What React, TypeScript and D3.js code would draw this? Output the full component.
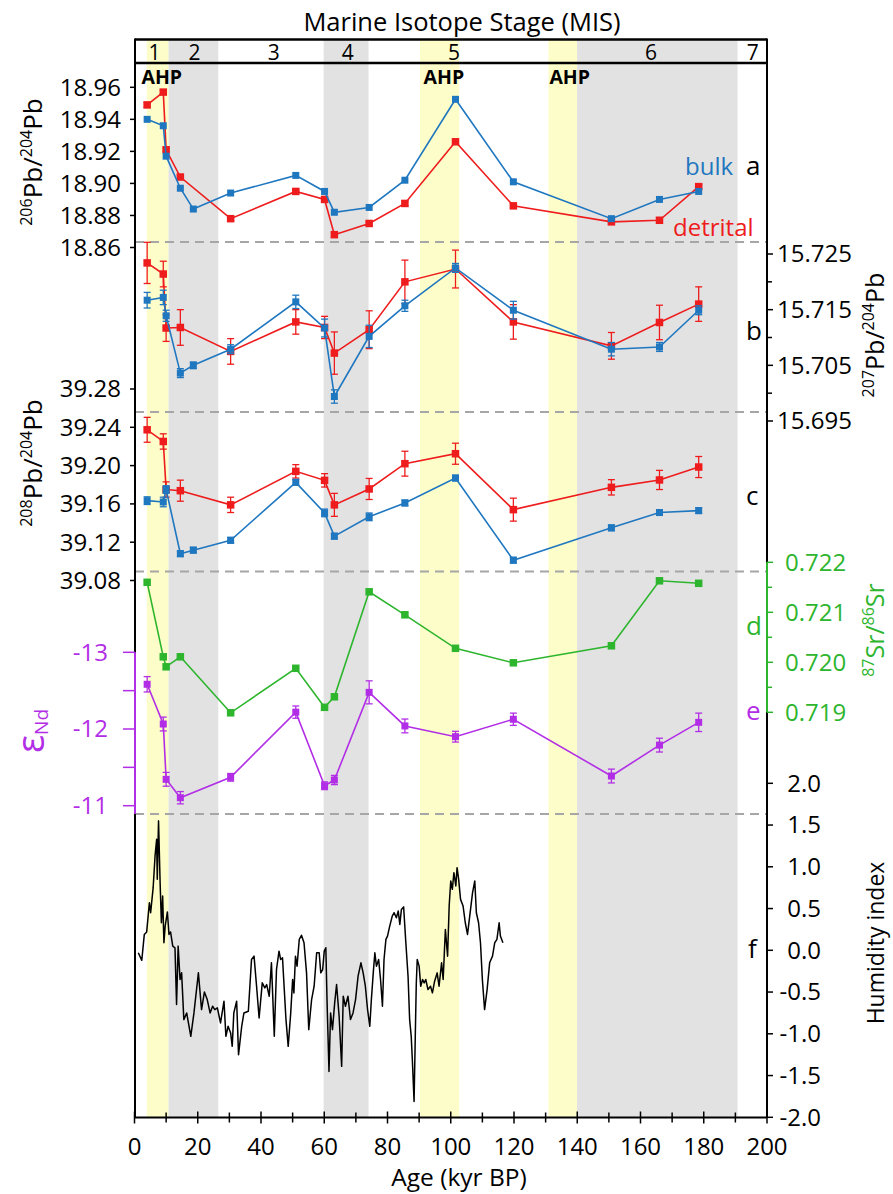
import React from 'react';
import * as d3 from 'd3';

// ---------- DATA ----------
const ages = [4.0, 9.1, 10.0, 14.5, 18.6, 30.4, 51.0, 60.1, 63.2, 74.2, 85.5, 101.5, 119.8, 150.8, 166.0, 178.4];

const pb206Bulk = [18.940, 18.936, 18.917, 18.897, 18.884, 18.894, 18.905, 18.895, 18.882, 18.885, 18.902, 18.9525, 18.901, 18.878, 18.890, 18.895];
const pb206Detr = [18.949, 18.957, 18.921, 18.904, null, 18.878, 18.895, 18.890, 18.868, 18.875, 18.8875, 18.926, 18.886, 18.876, 18.877, 18.898];
const pb206DetrErr = [0.0015, 0.0012, 0.0012, 0.0012, null, 0.0012, 0.0012, 0.0012, 0.0015, 0.0012, 0.0015, 0.0012, 0.0012, 0.0012, 0.0015, 0.0012];

const pb207Bulk = [15.7167, 15.7172, 15.7139, 15.7036, 15.7050, 15.7079, 15.7164, 15.7117, 15.6994, 15.7102, 15.7157, 15.7225, 15.7149, 15.7079, 15.7083, 15.7149];
const pb207BulkErr = [0.0014, 0.0013, 0.0010, 0.0008, 0.0006, 0.0008, 0.0012, 0.0016, 0.0012, 0.0020, 0.0010, 0.0008, 0.0016, 0.0012, 0.0008, 0.0008];
const pb207Detr = [15.7234, 15.7214, 15.7117, 15.7118, null, 15.7075, 15.7128, 15.7118, 15.7072, 15.7114, 15.7200, 15.7223, 15.7128, 15.7085, 15.7127, 15.7160];
const pb207DetrErr = [0.0037, 0.0023, 0.0024, 0.0032, null, 0.0023, 0.0022, 0.0020, 0.0038, 0.0034, 0.0039, 0.0034, 0.0031, 0.0024, 0.0031, 0.0031];

const pb208Bulk = [39.1634, 39.162, 39.175, 39.108, 39.1117, 39.122, 39.1825, 39.1506, 39.1263, 39.1465, 39.161, 39.187, 39.1012, 39.135, 39.151, 39.153];
const pb208BulkErr = [0.004, 0.005, 0.004, 0.003, 0.003, 0.003, 0.003, 0.004, 0.003, 0.004, 0.003, 0.003, 0.003, 0.003, 0.003, 0.003];
const pb208Detr = [39.2374, 39.2252, 39.175, 39.1738, null, 39.159, 39.194, 39.1846, 39.159, 39.1756, 39.202, 39.2124, 39.154, 39.1773, 39.185, 39.1985];
const pb208DetrErr = [0.013, 0.008, 0.008, 0.011, null, 0.008, 0.007, 0.007, 0.012, 0.011, 0.013, 0.011, 0.012, 0.008, 0.010, 0.011];

const sr = [0.7216, 0.72011, 0.71991, 0.72011, null, 0.71899, 0.71988, 0.7191, 0.71931, 0.72141, 0.72095, 0.72028, 0.71999, 0.72033, 0.72163, 0.72158];

const eNd = [-12.583, -12.065, -11.344, -11.104, null, -11.37, -12.22, -11.26, -11.335, -12.478, -12.04, -11.9, -12.127, -11.387, -11.79, -12.087];
const eNdErr = [0.10, 0.09, 0.09, 0.08, null, 0.05, 0.08, 0.05, 0.06, 0.15, 0.09, 0.07, 0.08, 0.09, 0.09, 0.12];

const humAge = [1.2, 2.3, 3.1, 3.85, 4.7, 5.1, 5.9, 6.5, 7.0, 7.2, 7.6, 8.1, 8.5, 8.9, 9.3, 9.7, 10.4, 10.9, 11.4, 12.1, 12.8, 13.3, 13.8, 14.4, 14.9, 15.6, 16.5, 17.8, 18.8, 20.2, 21.2, 22.1, 23.0, 23.9, 24.7, 25.4, 26.2, 27.2, 28.3, 28.9, 29.6, 30.4, 30.9, 31.4, 32.3, 32.9, 33.9, 34.6, 36.0, 37.0, 37.8, 38.6, 39.4, 40.4, 41.2, 41.8, 42.6, 43.3, 44.2, 44.9, 45.7, 46.2, 46.8, 47.3, 47.9, 48.6, 49.4, 50.0, 50.4, 50.9, 51.4, 52.1, 52.8, 53.6, 54.4, 55.1, 56.0, 56.8, 57.6, 58.4, 58.9, 59.5, 60.0, 60.5, 60.9, 61.5, 62.0, 62.6, 63.3, 63.9, 64.7, 65.5, 66.0, 66.7, 67.5, 68.3, 69.1, 69.9, 70.7, 71.6, 72.3, 73.0, 73.7, 74.4, 74.9, 75.5, 76.0, 76.5, 77.2, 77.8, 78.4, 78.9, 79.5, 80.0, 80.7, 81.5, 82.1, 82.8, 83.4, 83.9, 84.4, 85.1, 85.8, 86.5, 87.0, 87.5, 87.9, 88.4, 88.8, 89.1, 89.4, 90.0, 90.5, 91.1, 91.6, 92.1, 92.8, 93.6, 94.2, 94.9, 95.7, 96.3, 97.1, 97.6, 98.3, 99.0, 99.5, 100.0, 100.5, 101.0, 101.6, 102.0, 102.5, 103.1, 103.9, 104.6, 105.3, 106.0, 106.9, 107.6, 108.1, 108.8, 109.4, 110.0, 110.7, 111.5, 112.3, 113.2, 113.9, 114.6, 115.3, 115.7, 116.5];
const humVal = [-0.03, -0.12, 0.19, 0.22, 0.57, 0.45, 0.75, 1.13, 1.33, 0.85, 1.55, 0.81, 0.33, 0.65, 0.09, 0.29, 0.46, 0.19, 0.22, 0.05, 0.03, -0.65, 0.05, -0.35, -0.27, -0.83, -0.75, -1.03, -0.75, -0.27, -0.71, -0.50, -0.59, -0.75, -0.67, -0.71, -0.69, -0.87, -0.61, -1.03, -0.91, -0.99, -1.15, -0.75, -0.61, -1.25, -0.91, -0.75, -0.73, -0.11, -0.07, -0.43, -0.81, -0.39, -0.45, -0.41, -0.55, -0.15, -1.03, -0.23, -0.01, -0.11, -0.09, -0.43, -0.83, -1.15, -0.75, -0.35, -0.51, -0.07, -0.19, 0.13, 0.18, 0.09, -0.27, -0.95, -0.59, -0.43, -0.03, -0.03, -0.27, -0.23, -0.01, 0.03, -0.63, -1.45, -0.75, -0.95, -0.63, -0.41, -0.79, -1.39, -0.55, -0.67, -0.55, -0.83, -0.75, -0.59, -0.31, -0.15, -0.27, -0.43, -0.71, -0.91, -0.59, -0.27, -0.03, -0.19, -0.11, -0.35, -0.67, -0.11, 0.13, 0.17, 0.29, 0.41, 0.45, 0.39, 0.47, 0.31, 0.49, 0.52, 0.09, -0.31, -0.83, -1.03, -1.35, -1.81, -1.0, -0.4, -0.11, -0.19, -0.43, -0.35, -0.39, -0.35, -0.47, -0.43, -0.51, -0.37, -0.27, -0.43, -0.15, -0.35, 0.25, -0.07, 0.53, 0.83, 0.73, 0.93, 0.77, 0.99, 0.85, 0.61, 0.53, 0.33, 0.19, 0.41, 0.69, 0.83, 0.45, 0.33, 0.09, -0.35, -0.71, -0.47, -0.15, -0.07, 0.09, 0.13, 0.33, 0.17, 0.09];

const yellowBands = [[3.9, 10.7], [90.3, 102.7], [130.9, 139.9]];
const grayBands = [[10.7, 26.5], [59.8, 74.0], [139.9, 190.7]];
const misLabels = ['1', '2', '3', '4', '5', '6', '7'];
const misAges = [6.3, 19.0, 44.0, 67.4, 101.0, 163.3, 195.5];
const ahpAges = [2.2, 91.4, 131.2];

const ticksA = [18.86, 18.88, 18.90, 18.92, 18.94, 18.96];
const ticksB = [15.695, 15.705, 15.715, 15.725];
const minorB = [15.700, 15.710, 15.720];
const ticksC = [39.08, 39.12, 39.16, 39.20, 39.24, 39.28];
const ticksD = [0.719, 0.720, 0.721, 0.722];
const minorD = [0.7195, 0.7205, 0.7215];
const ticksE = [-13, -12, -11];
const minorE = [-12.5, -11.5];
const ticksF = [-2, -1.5, -1, -0.5, 0, 0.5, 1, 1.5, 2];
const xTicks = [0, 20, 40, 60, 80, 100, 120, 140, 160, 180, 200];
const xMinor = [10, 30, 50, 70, 90, 110, 130, 150, 170, 190];

// ---------- STYLE ----------
const FONT = "'Open Sans', 'Noto Sans', sans-serif";
const BLUE = '#1f77c0';
const RED = '#ee1c1c';
const GREEN = '#2db52d';
const PURPLE = '#b22ee6';
const YELLOW = '#fdfdc9';
const GRAY = '#e2e2e2';

const x = d3.scaleLinear().domain([0, 200]).range([134.5, 767]);
const yA = d3.scaleLinear().domain([18.86, 18.96]).range([247.5, 87.3]);
const yB = d3.scaleLinear().domain([15.695, 15.725]).range([421, 254]);
const yC = d3.scaleLinear().domain([39.08, 39.28]).range([580.5, 389]);
const yD = d3.scaleLinear().domain([0.719, 0.722]).range([712.3, 562.3]);
const yE = d3.scaleLinear().domain([-13, -11]).range([652.3, 805.7]);
const yF = d3.scaleLinear().domain([-2, 2]).range([1117.3, 783.3]);

const L = 135, R = 767, TOP = 39.5, HB = 63, BOT = 1117.5;
const TICKFS = 24;

function Series({ vals, errs, y, color, size = 7.5 }: any) {
  const pts = ages
    .map((a, i) => ({ a, v: vals[i], e: errs ? errs[i] : null }))
    .filter((p) => p.v != null);
  const line = d3.line<any>().x((p) => x(p.a)).y((p) => y(p.v));
  return (
    <g>
      <path d={line(pts) || ''} fill="none" stroke={color} strokeWidth={1.6} />
      {pts.filter((p) => p.e != null).map((p, i) => {
        const cx = x(p.a), y1 = y(p.v - p.e), y2 = y(p.v + p.e);
        return (
          <g key={'e' + i} stroke={color} strokeWidth={1.3}>
            <line x1={cx} x2={cx} y1={y1} y2={y2} />
            <line x1={cx - 3.5} x2={cx + 3.5} y1={y1} y2={y1} />
            <line x1={cx - 3.5} x2={cx + 3.5} y1={y2} y2={y2} />
          </g>
        );
      })}
      {pts.map((p, i) => (
        <rect key={'m' + i} x={x(p.a) - size / 2} y={y(p.v) - size / 2} width={size} height={size} fill={color} />
      ))}
    </g>
  );
}

function fmt(v: number, d: number) {
  const s = Math.abs(v).toFixed(d);
  return v < -1e-9 ? '-' + s : s;
}

export default function App() {
  const humLine = d3.line<number>().x((_, i) => x(humAge[i])).y((v) => yF(v));
  const dashY = [242, 412, 571.5, 814];
  const leftTicks = (vals: number[], sc: any, d: number, color = '#000', len = 5, lx = 121) =>
    vals.map((v) => (
      <g key={'lt' + v}>
        <line x1={L - len} x2={L} y1={sc(v)} y2={sc(v)} stroke={color} strokeWidth={1.5} />
        <text x={lx} y={sc(v)} dy="0.35em" textAnchor="end" fontSize={TICKFS} fill={color}>{fmt(v, d)}</text>
      </g>
    ));
  const rightMinor = (vals: number[], sc: any, color = '#000') =>
    vals.map((v) => <line key={'rm' + v} x1={R} x2={R + 5} y1={sc(v)} y2={sc(v)} stroke={color} strokeWidth={1.5} />);
  const rightTicks = (vals: number[], sc: any, d: number, color = '#000', lx = 777, anchor = 'start') =>
    vals.map((v) => (
      <g key={'rt' + v}>
        <line x1={R} x2={R + 6} y1={sc(v)} y2={sc(v)} stroke={color} strokeWidth={1.5} />
        <text x={lx} y={sc(v)} dy="0.35em" textAnchor={anchor} fontSize={TICKFS} fill={color}>{fmt(v, d)}</text>
      </g>
    ));

  return (
    <svg width={893} height={1194} style={{ position: 'absolute', left: 0, top: 0, background: '#fff' }} fontFamily={FONT}>
      <rect x={0} y={0} width={893} height={1194} fill="#fff" />
      {/* bands */}
      {grayBands.map(([a, b], i) => (
        <rect key={'g' + i} x={x(a)} y={TOP} width={x(b) - x(a)} height={BOT - TOP} fill={GRAY} />
      ))}
      {yellowBands.map(([a, b], i) => (
        <rect key={'y' + i} x={x(a)} y={TOP} width={x(b) - x(a)} height={BOT - TOP} fill={YELLOW} />
      ))}

      {/* title & header box */}
      <text x={462} y={31} textAnchor="middle" fontSize={25.5}>Marine Isotope Stage (MIS)</text>
      <line x1={L} x2={R} y1={TOP} y2={TOP} stroke="#000" strokeWidth={2.5} />
      <line x1={L} x2={R} y1={HB} y2={HB} stroke="#000" strokeWidth={2.5} />
      {misLabels.map((m, i) => (
        <text key={'mis' + m} x={x(misAges[i])} y={59.5} textAnchor="middle" fontSize={21}>{m}</text>
      ))}
      {ahpAges.map((a, i) => (
        <text key={'ahp' + i} x={x(a)} y={84} fontSize={19.5} fontWeight="bold">AHP</text>
      ))}

      {/* separators */}
      {dashY.map((d) => (
        <line key={'d' + d} x1={L} x2={R} y1={d} y2={d} stroke="#a6a6a6" strokeWidth={2} strokeDasharray="9,6" />
      ))}

      {/* humidity */}
      <path d={humLine(humVal) || ''} fill="none" stroke="#000" strokeWidth={1.5} strokeLinejoin="round" />

      {/* series */}
      <Series vals={pb206Detr} errs={pb206DetrErr} y={yA} color={RED} />
      <Series vals={pb206Bulk} y={yA} color={BLUE} size={7} />
      <Series vals={pb207Detr} errs={pb207DetrErr} y={yB} color={RED} />
      <Series vals={pb207Bulk} errs={pb207BulkErr} y={yB} color={BLUE} size={7} />
      <Series vals={pb208Detr} errs={pb208DetrErr} y={yC} color={RED} />
      <Series vals={pb208Bulk} errs={pb208BulkErr} y={yC} color={BLUE} size={7} />
      <Series vals={sr} y={yD} color={GREEN} />
      <Series vals={eNd} errs={eNdErr} y={yE} color={PURPLE} size={7} />

      {/* axes lines */}
      <line x1={L} x2={L} y1={TOP - 1} y2={BOT} stroke="#000" strokeWidth={2} />
      <line x1={L} x2={L} y1={yE(-13)} y2={814} stroke={PURPLE} strokeWidth={2} />
      <line x1={R} x2={R} y1={TOP - 1} y2={BOT} stroke="#000" strokeWidth={2} />
      <line x1={R} x2={R} y1={yD(0.722)} y2={yD(0.719)} stroke={GREEN} strokeWidth={2} />
      <line x1={L} x2={R} y1={BOT} y2={BOT} stroke="#000" strokeWidth={2} />

      {/* left ticks */}
      {leftTicks(ticksA, yA, 2)}
      {leftTicks(ticksC, yC, 2)}
      {leftTicks(ticksE, yE, 0, PURPLE, 12, 108)}
      {minorE.map((v) => <line key={'me' + v} x1={L - 12} x2={L} y1={yE(v)} y2={yE(v)} stroke={PURPLE} strokeWidth={1.5} />)}

      {/* right ticks */}
      {rightMinor(minorB, yB)}
      {rightTicks(ticksB, yB, 3)}
      {rightMinor(minorD, yD, GREEN)}
      {rightTicks(ticksD, yD, 3, GREEN, 785)}
      {rightTicks(ticksF, yF, 1, '#000', 821, 'end')}

      {/* x axis */}
      {xMinor.map((v) => <line key={'xm' + v} x1={x(v)} x2={x(v)} y1={BOT - 5} y2={BOT + 5} stroke="#000" strokeWidth={1.5} />)}
      {xTicks.map((v) => (
        <g key={'xt' + v}>
          <line x1={x(v)} x2={x(v)} y1={BOT - 6} y2={BOT + 6} stroke="#000" strokeWidth={1.5} />
          <text x={x(v)} y={1155} textAnchor="middle" fontSize={TICKFS}>{v}</text>
        </g>
      ))}
      <text x={459} y={1186} textAnchor="middle" fontSize={24.5}>Age (kyr BP)</text>

      {/* axis titles */}
      <text transform="translate(42,162) rotate(-90)" textAnchor="middle" fontSize={26}>
        <tspan fontSize={16} dy={-10}>206</tspan><tspan dy={10}>Pb/</tspan><tspan fontSize={16} dy={-10}>204</tspan><tspan dy={10}>Pb</tspan>
      </text>
      <text transform="translate(42,463) rotate(-90)" textAnchor="middle" fontSize={26}>
        <tspan fontSize={16} dy={-10}>208</tspan><tspan dy={10}>Pb/</tspan><tspan fontSize={16} dy={-10}>204</tspan><tspan dy={10}>Pb</tspan>
      </text>
      <text transform="translate(44,731) rotate(-90)" textAnchor="middle" fill={PURPLE}>
        <tspan fontSize={38}>ε</tspan><tspan fontSize={19} dy={4}>Nd</tspan>
      </text>
      <text transform="translate(884,335) rotate(-90)" textAnchor="middle" fontSize={25}>
        <tspan fontSize={16} dy={-10}>207</tspan><tspan dy={10}>Pb/</tspan><tspan fontSize={16} dy={-10}>204</tspan><tspan dy={10}>Pb</tspan>
      </text>
      <text transform="translate(884,630) rotate(-90)" textAnchor="middle" fontSize={25} fill={GREEN}>
        <tspan fontSize={16} dy={-10}>87</tspan><tspan dy={10}>Sr/</tspan><tspan fontSize={16} dy={-10}>86</tspan><tspan dy={10}>Sr</tspan>
      </text>
      <text transform="translate(884,943) rotate(-90)" textAnchor="middle" fontSize={23}>Humidity index</text>

      {/* panel letters & legend */}
      <text x={685} y={175} fontSize={24} fill={BLUE}>bulk</text>
      <text x={673} y={236} fontSize={24} fill={RED}>detrital</text>
      <text x={746} y={175} fontSize={26}>a</text>
      <text x={746} y={340} fontSize={26}>b</text>
      <text x={746} y={505} fontSize={26}>c</text>
      <text x={746} y={635} fontSize={26} fill={GREEN}>d</text>
      <text x={746} y={720} fontSize={26} fill={PURPLE}>e</text>
      <text x={748} y={958} fontSize={26}>f</text>
    </svg>
  );
}
